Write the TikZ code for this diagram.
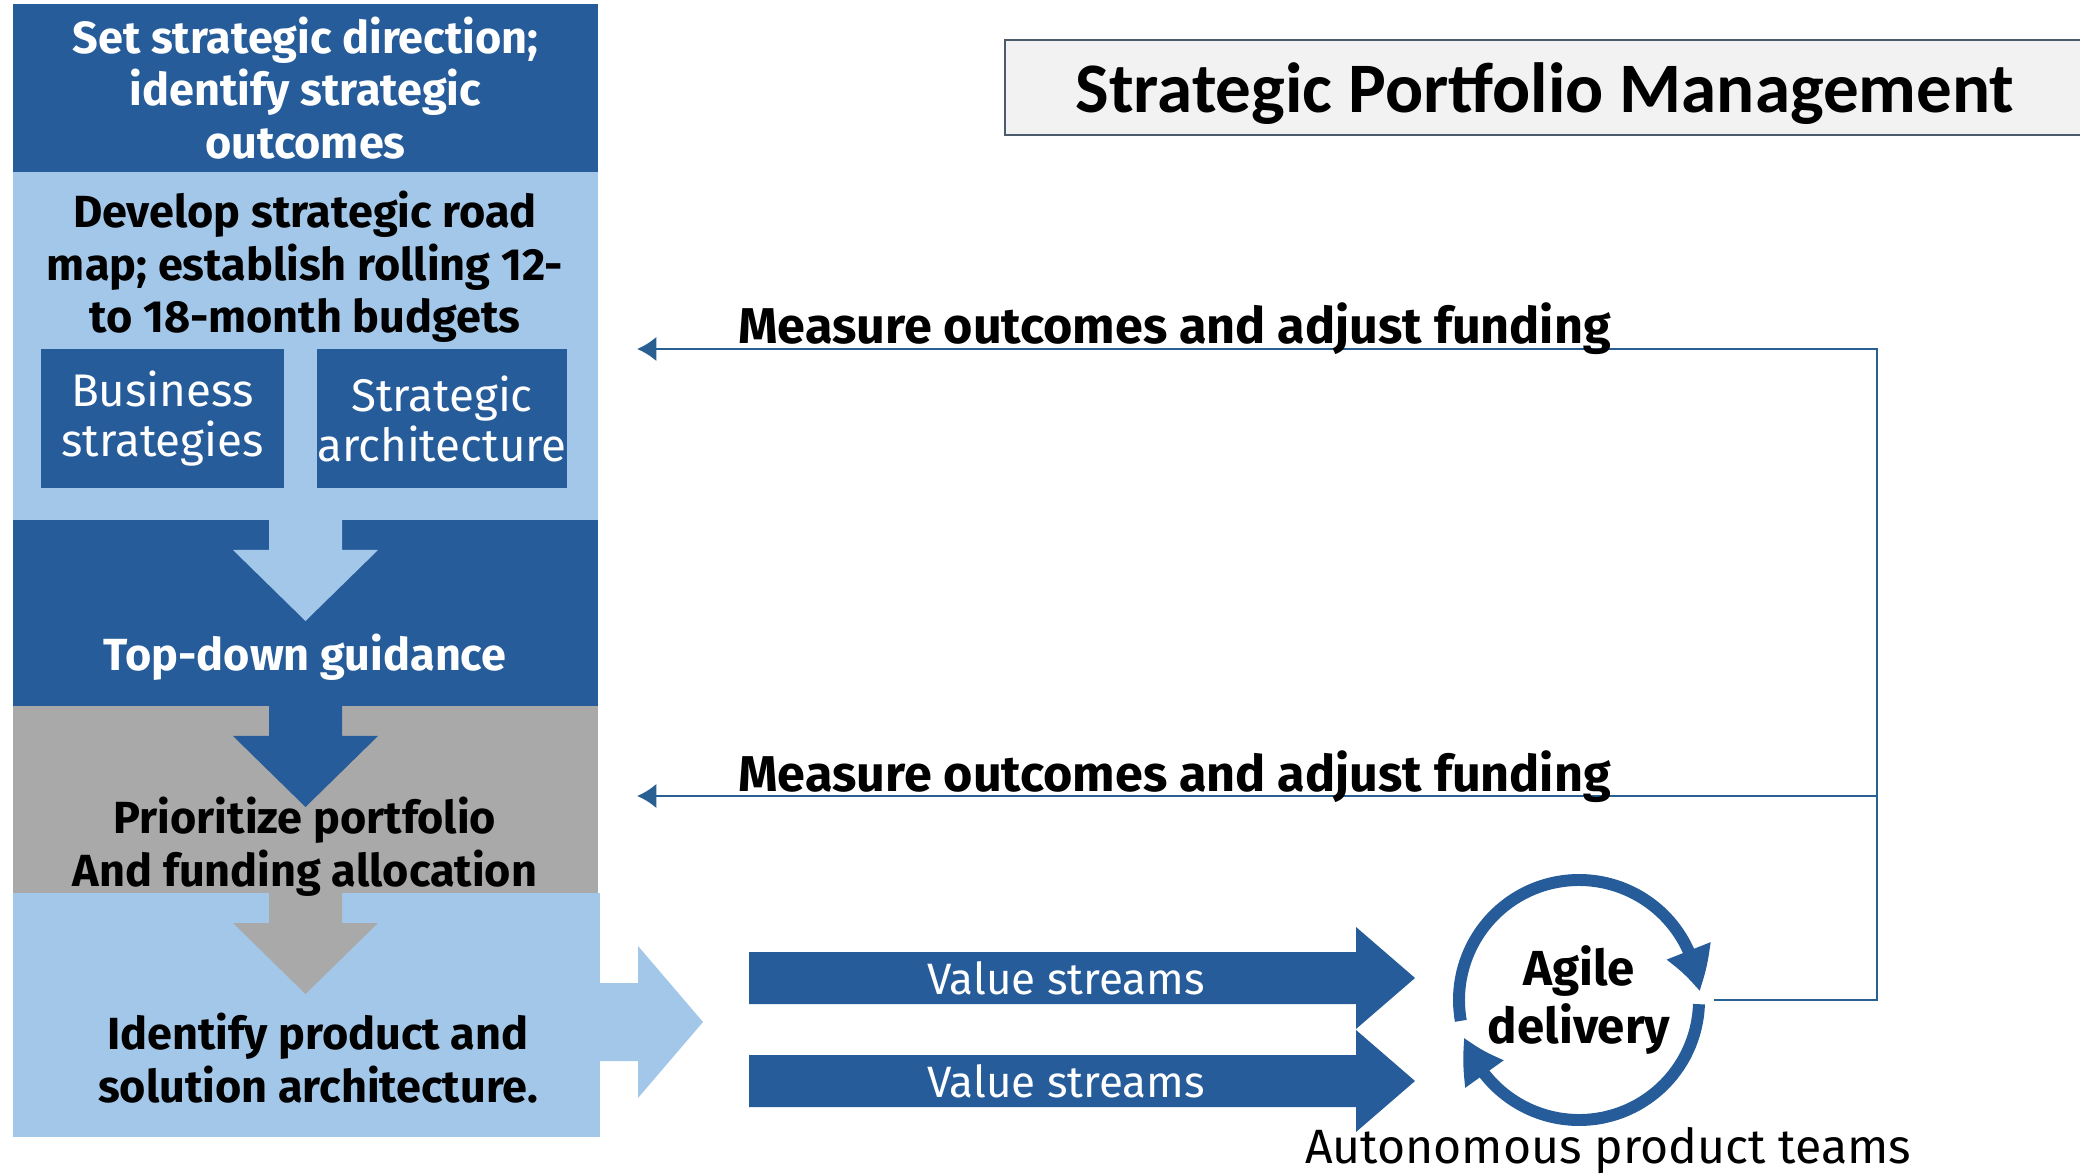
\documentclass[tikz,border=0pt]{standalone}
\usepackage{fontspec}
\setmainfont{Fira Sans}
\newfontfamily\titlefont{Carlito}
\usetikzlibrary{arrows.meta,bending}
\definecolor{spmdark}{HTML}{255C99}
\definecolor{spmlight}{HTML}{A3C7E9}
\definecolor{spmgrey}{HTML}{A9A9A9}
\definecolor{spmline}{HTML}{2A5F92}
\definecolor{spmtitle}{HTML}{F2F2F2}
\definecolor{spmedge}{HTML}{4B5B6B}
\begin{document}
\begin{tikzpicture}[x=0.01cm, y=-0.01cm, >={Latex[length=5.5pt,width=7pt]},
    band/.style={rectangle, inner sep=0pt, minimum width=5.85cm},
    bold/.style={align=center, font=\fontsize{12.8}{15}\selectfont\bfseries},
    plain/.style={align=center, font=\fontsize{13}{14.2}\selectfont},
    inbox/.style={plain, fill=spmdark, text=white, inner sep=0pt, minimum width=2.43cm, minimum height=1.39cm},
    feedback/.style={draw=spmline, line width=0.75pt, ->}]
\useasboundingbox (0,0) rectangle (2080,1174);

\node[band, bold, fill=spmdark, text=white, minimum height=1.68cm] (direction) at (305.5,88) {Set strategic direction;\\identify strategic\\outcomes};
\node[band, fill=spmlight, minimum height=3.48cm] (roadmap) at (305.5,346) {};
\node[band, fill=spmdark, minimum height=1.86cm] (guidance) at (305.5,613) {};
\node[band, fill=spmgrey, minimum height=1.87cm] (priority) at (305.5,799.5) {};
\node[band, fill=spmlight, minimum width=5.87cm, minimum height=2.44cm] (solution) at (306.5,1015) {};

\foreach \top/\col in {520/spmlight, 706/spmdark, 893/spmgrey}
{
    \fill[\col] (269,\top)--(269,{\top+30})--(233,{\top+30})--(305.5,{\top+101})--(378,{\top+30})--(342,{\top+30})--(342,\top)--cycle;
}
\fill[spmlight] (598,983)--(638,983)--(638,946)--(703,1022)--(638,1098)--(638,1061)--(598,1061)--cycle;

\node[bold] (roadmaptext) at (305,267) {Develop strategic road\\map; establish rolling 12-\\to 18-month budgets};
\node[inbox] (business) at (162.5,418.5) {Business\\strategies};
\node[inbox] (architecture) at (442,418.5) {Strategic\\architecture};
\node[bold, text=white] (guidancetext) at (305,657) {Top-down guidance};
\node[bold] (prioritytext) at (305,847) {Prioritize portfolio\\And funding allocation};
\node[bold] (solutiontext) at (318,1058) {Identify product and\\solution architecture.};

\node[draw=spmedge, line width=0.6pt, fill=spmtitle, minimum width=10.8cm, minimum height=0.95cm, text depth=0pt,
    font=\titlefont\bfseries\fontsize{20.2}{22}\selectfont] (title) at (1545,87.5) {Strategic Portfolio Management};

\foreach \y [count=\i] in {978,1081}
{
    \fill[spmdark] (749,{\y-26})--(1356,{\y-26})--(1356,{\y-51})--(1415,\y)--(1356,{\y+51})--(1356,{\y+26})--(749,{\y+26})--cycle;
    \node[plain, font=\fontsize{12.5}{14}\selectfont, text=white] (stream\i) at (1066,\y) {Value streams};
}

\node[circle, inner sep=0pt, minimum size=2.68cm, align=center, font=\fontsize{14}{16.5}\selectfont\bfseries] (agile) at (1579,1000) {Agile\\delivery};
\draw[spmdark, line width=3.4pt, -{Triangle[width=12.5pt,length=12pt,bend]}] (agile.center) ++(170:120) arc[start angle=170, end angle=356, radius=120];
\draw[spmdark, line width=3.4pt, -{Triangle[width=12.5pt,length=12pt,bend]}] (agile.center) ++(2:120) arc[start angle=2, end angle=162, radius=120];
\node[font=\fontsize{13.7}{16}\selectfont] (teams) at (1608,1151) {Autonomous product teams};

\coordinate (loop) at (1877,349);
\coordinate (backtop) at (637,349);
\coordinate (backmid) at (637,796);
\draw[feedback] (agile.east) -| (loop) -- (backtop);
\draw[feedback] (loop |- backmid) -- (backmid);
\node[anchor=base west, font=\fontsize{14.3}{16}\selectfont\bfseries] (measuretop) at (726,344) {Measure outcomes and adjust funding};
\node[anchor=base west, font=\fontsize{14.3}{16}\selectfont\bfseries] (measuremid) at (726,791) {Measure outcomes and adjust funding};
\end{tikzpicture}
\end{document}
